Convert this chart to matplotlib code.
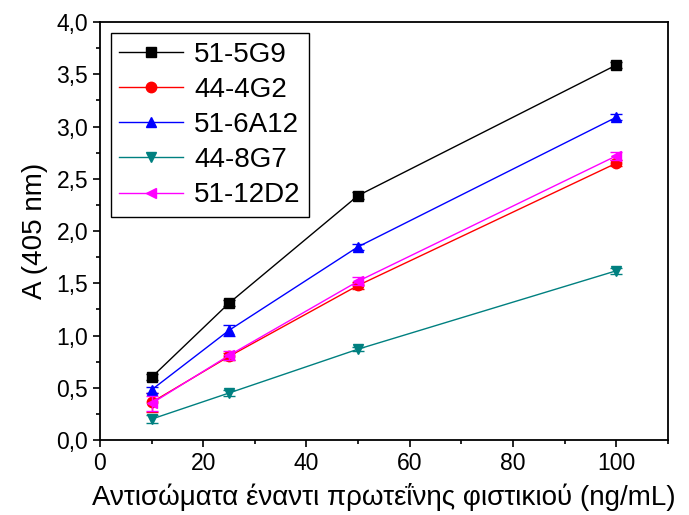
import matplotlib
matplotlib.use("Agg")
import matplotlib.pyplot as plt
from matplotlib.ticker import MultipleLocator, FuncFormatter

plt.rcParams['font.family'] = ['Liberation Sans', 'DejaVu Sans']

x = [10, 25, 50, 100]
labels = ["51-5G9", "44-4G2", "51-6A12", "44-8G7", "51-12D2"]
y_5G9 = [0.60, 1.31, 2.34, 3.59]
y_4G2 = [0.36, 0.80, 1.48, 2.65]
y_6A12 = [0.48, 1.05, 1.85, 3.09]
y_8G7 = [0.20, 0.45, 0.87, 1.62]
y_12D2 = [0.35, 0.81, 1.52, 2.72]
e_5G9 = [0.03, 0.03, 0.03, 0.03]
e_4G2 = [0.09, 0.03, 0.03, 0.03]
e_6A12 = [0.03, 0.05, 0.03, 0.03]
e_8G7 = [0.04, 0.03, 0.02, 0.03]
e_12D2 = [0.07, 0.04, 0.04, 0.04]

series = [y_5G9, y_4G2, y_6A12, y_8G7, y_12D2]
errs = [e_5G9, e_4G2, e_6A12, e_8G7, e_12D2]
colors = ["black", "red", "blue", "#008080", "magenta"]
markers = ["s", "o", "^", "v", "<"]

fig = plt.figure(figsize=(6.89, 5.15), dpi=100)
ax = fig.add_axes([0.145, 0.1456, 0.8245, 0.8114])

for ys, es, c, m, lab in zip(series, errs, colors, markers, labels):
    ax.errorbar(x, ys, yerr=es, fmt='none', ecolor=c, capsize=4, elinewidth=1)
    ax.plot(x, ys, color=c, marker=m, markersize=7.5, lw=1, label=lab)

ax.set_xlim(0, 110)
ax.set_ylim(0, 4.0)
ax.xaxis.set_major_locator(MultipleLocator(20))
ax.xaxis.set_minor_locator(MultipleLocator(10))
ax.yaxis.set_major_locator(MultipleLocator(0.5))
ax.yaxis.set_minor_locator(MultipleLocator(0.25))
ax.yaxis.set_major_formatter(FuncFormatter(lambda v, p: f"{v:.1f}".replace(".", ",")))
ax.tick_params(which='both', direction='out', top=False, right=False, labelsize=16.5, width=1.2)
ax.tick_params(which='major', length=5)
ax.tick_params(which='minor', length=3)
for s in ax.spines.values():
    s.set_linewidth(1.3)

ax.set_xlabel("Αντισώματα έναντι πρωτεΐνης φιστικιού (ng/mL)", fontsize=20, labelpad=6)
ax.set_ylabel("A (405 nm)", fontsize=20, labelpad=6)

leg = ax.legend(loc='upper left', fontsize=20, fancybox=False, edgecolor='black',
                framealpha=1, handlelength=2.3, borderaxespad=0.4, labelspacing=0.33,
                handletextpad=0.4, borderpad=0.3)
leg.get_frame().set_linewidth(1.0)

fig.savefig("out.png", dpi=100)
